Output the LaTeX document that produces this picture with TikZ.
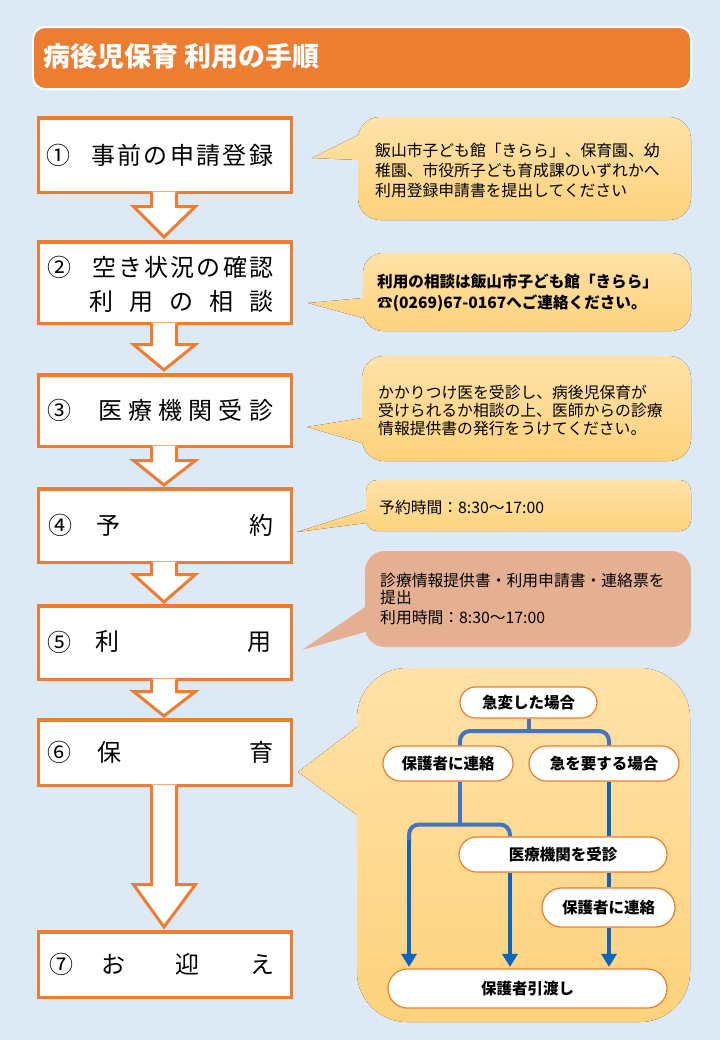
\documentclass[tikz,border=0pt]{standalone}
\usepackage{fontspec}
\setmainfont{Noto Sans CJK JP}
\usetikzlibrary{arrows.meta,shapes.misc}
\definecolor{bgblue}{HTML}{DDEAF6}
\definecolor{orangeC}{HTML}{ED7D31}
\definecolor{bubTop}{HTML}{FFE2A8}
\definecolor{bubBot}{HTML}{FDD27C}
\definecolor{bubSalmon}{HTML}{E5B092}
\definecolor{lineA}{HTML}{4472C4}
\definecolor{lineB}{HTML}{0A66BE}
\newcommand\myfs[2]{\fontsize{#1bp}{#2bp}\selectfont}
% speech bubble: style, x0, y0, x1, y1, r, ya, yb, tip
\newcommand\bubble[9]{%
\fill[#1] (#2,#7) -- (#2,#3+#6) .. controls (#2,#3+0.45*#6) and (#2+0.45*#6,#3) .. (#2+#6,#3)
 -- (#4-#6,#3) .. controls (#4-0.45*#6,#3) and (#4,#3+0.45*#6) .. (#4,#3+#6)
 -- (#4,#5-#6) .. controls (#4,#5-0.45*#6) and (#4-0.45*#6,#5) .. (#4-#6,#5)
 -- (#2+#6,#5) .. controls (#2+0.45*#6,#5) and (#2,#5-0.45*#6) .. (#2,#5-#6)
 -- (#2,#8) -- (#9) -- cycle;}
% block arrow: from node, to node, head base y, tip y
\newcommand\blockarrow[4]{%
\fill[white] ([yshift=2.5bp]151.5,0 |- #1.south) -- (151.5,#3) -- (133.5,#3) -- (164,#4) -- (195.5,#3) -- (176.5,#3) -- ([yshift=2.5bp]176.5,0 |- #1.south) -- cycle;
\draw[blockline] ([yshift=1.6bp]151.5,0 |- #1.south) -- (151.5,#3) -- (133.5,#3) -- (164,#4) -- (195.5,#3) -- (176.5,#3) -- ([yshift=1.6bp]176.5,0 |- #1.south);}
\begin{document}
\begin{tikzpicture}[x=1bp,y=-1bp,
  stepbox/.style={draw=orangeC, line width=3.5bp, fill=white, minimum width=252.5bp, inner sep=0},
  blockline/.style={draw=orangeC, line width=3bp, line join=miter},
  boxtxt/.style={inner sep=0, font=\myfs{24}{28}},
  bubtxt/.style={inner sep=0, anchor=west, align=left},
  yshade/.style={top color=bubTop, bottom color=bubBot},
  pill/.style={rounded rectangle, draw=orangeC, line width=1.2bp, fill=white, inner sep=0, font=\bfseries\myfs{15.5}{18}},
  conn/.style={line width=4bp},
  tipA/.style={-{Triangle[width=15bp,length=13bp]}, shorten >=1.5bp}]
\fill[bgblue] (0,0) rectangle (720,1040);
\useasboundingbox (0,0) rectangle (720,1040);

% title
\node[draw=white, line width=2bp, fill=orangeC, rounded corners=12bp, minimum width=658bp, minimum height=62bp, inner sep=0] (title) at (362,58) {};
\node[anchor=west, inner sep=0, text=white, font=\bfseries\myfs{27}{31}] (titletxt) at (43,56) {病後児保育 利用の手順};

% step boxes
\node[stepbox, minimum height=74.5bp] (b1) at (165,155) {};
\node[stepbox, minimum height=81.5bp] (b2) at (165,282.5) {};
\node[stepbox, minimum height=71.5bp] (b3) at (165,410.5) {};
\node[stepbox, minimum height=73.5bp] (b4) at (165,525.5) {};
\node[stepbox, minimum height=73.5bp] (b5) at (165,642.5) {};
\node[stepbox, minimum height=65.5bp] (b6) at (165,752.5) {};
\node[stepbox, minimum height=65.5bp] (b7) at (165,964.5) {};

\blockarrow{b1}{b2}{206.5}{237}
\blockarrow{b2}{b3}{344.5}{370}
\blockarrow{b3}{b4}{460.5}{485}
\blockarrow{b4}{b5}{574.5}{602}
\blockarrow{b5}{b6}{691.5}{716}
\blockarrow{b6}{b7}{884.5}{927}

% step texts
\node[boxtxt] (c1) at (58,155) {①};
\node[boxtxt, anchor=west] (s1) at (91,155) {\makebox[182bp][s]{事\hfill 前\hfill の\hfill 申\hfill 請\hfill 登\hfill 録}};
\node[boxtxt] (c2) at (59,267) {②};
\node[boxtxt, anchor=west] (s2a) at (92,267) {\makebox[181bp][s]{空\hfill き\hfill 状\hfill 況\hfill の\hfill 確\hfill 認}};
\node[boxtxt, anchor=west] (s2b) at (89,301) {\makebox[184bp][s]{利\hfill 用\hfill の\hfill 相\hfill 談}};
\node[boxtxt] (c3) at (59,410) {③};
\node[boxtxt, anchor=west] (s3) at (98,410) {\makebox[175bp][s]{医\hfill 療\hfill 機\hfill 関\hfill 受\hfill 診}};
\node[boxtxt] (c4) at (60,525) {④};
\node[boxtxt, anchor=west] (s4) at (96,525) {\makebox[177bp][s]{予\hfill 約}};
\node[boxtxt] (c5) at (59,642) {⑤};
\node[boxtxt, anchor=west] (s5) at (95,642) {\makebox[176bp][s]{利\hfill 用}};
\node[boxtxt] (c6) at (59,752) {⑥};
\node[boxtxt, anchor=west] (s6) at (97,752) {\makebox[176bp][s]{保\hfill 育}};
\node[boxtxt] (c7) at (61,964) {⑦};
\node[boxtxt, anchor=west] (s7) at (101,964) {\makebox[173bp][s]{お\hfill 迎\hfill え}};

% bubbles
\bubble{yshade}{358}{117}{691}{220}{22}{135}{160}{312,158}
\bubble{yshade}{363}{253}{691}{331}{20}{298}{318}{308,303}
\bubble{yshade}{362}{356}{691}{461}{22}{418}{443}{307,427}
\bubble{yshade}{366}{480}{691}{531}{11}{510}{523}{297,532}
\bubble{fill=bubSalmon}{365}{551}{691}{647}{20}{607}{632}{302,650}
\bubble{yshade}{357}{668}{690}{1022}{50}{727}{815}{298,772}

\node[bubtxt, font=\myfs{15.8}{20}] (q1) at (375,170) {飯山市子ども館「きらら」、保育園、幼\\稚園、市役所子ども育成課のいずれかへ\\利用登録申請書を提出してください};
\node[bubtxt, font=\bfseries\myfs{15.6}{20.5}] (q2) at (377,293) {利用の相談は飯山市子ども館「きらら」\\☎(0269)67-0167へご連絡ください。};
\node[bubtxt, font=\myfs{15.8}{18}] (q3) at (378,410) {かかりつけ医を受診し、病後児保育が\\受けられるか相談の上、医師からの診療\\情報提供書の発行をうけてください。};
\node[bubtxt, font=\myfs{15.8}{18}] (q4) at (379,507) {予約時間：8:30～17:00};
\node[bubtxt, font=\myfs{15.8}{17}] (q5) at (380,599.5) {診療情報提供書・利用申請書・連絡票を\\提出\\[3bp]利用時間：8:30～17:00};

% flow inside bubble 6
\node[pill, minimum width=137bp, minimum height=31bp] (p1) at (528.5,702.5) {急変した場合};
\node[pill, minimum width=130bp, minimum height=35bp] (p2) at (448,763.5) {保護者に連絡};
\node[pill, minimum width=150bp, minimum height=35bp] (p3) at (604,763.5) {急を要する場合};
\node[pill, minimum width=208bp, minimum height=35bp] (p4) at (563,854.5) {医療機関を受診};
\node[pill, minimum width=133bp, minimum height=39bp] (p5) at (608.5,907.5) {保護者に連絡};
\node[pill, minimum width=279bp, minimum height=39bp] (p6) at (527.5,988.5) {保護者引渡し};

\draw[lineA, conn] (p1.south) -- (p1.south |- 0,731);
\draw[lineA, conn, rounded corners=10bp] (460,0 |- p2.north) |- (609,731) -- (609,0 |- p3.north);
\draw[lineA, conn] (460,0 |- p2.south) -- (460,824.5);
\draw[lineA, conn, rounded corners=10bp] (409,842) |- (510,824.5) -- (510,0 |- p4.north);
\draw[lineB, conn, tipA] (409,840) -- (409,0 |- p6.north);
\draw[lineB, conn, tipA] (510,0 |- p4.south) -- (510,0 |- p6.north);
\draw[lineB, conn] (609,0 |- p3.south) -- (609,0 |- p4.north);
\draw[lineB, conn] (609,0 |- p4.south) -- (609,0 |- p5.north);
\draw[lineB, conn, tipA] (609,0 |- p5.south) -- (609,0 |- p6.north);
\end{tikzpicture}
\end{document}
